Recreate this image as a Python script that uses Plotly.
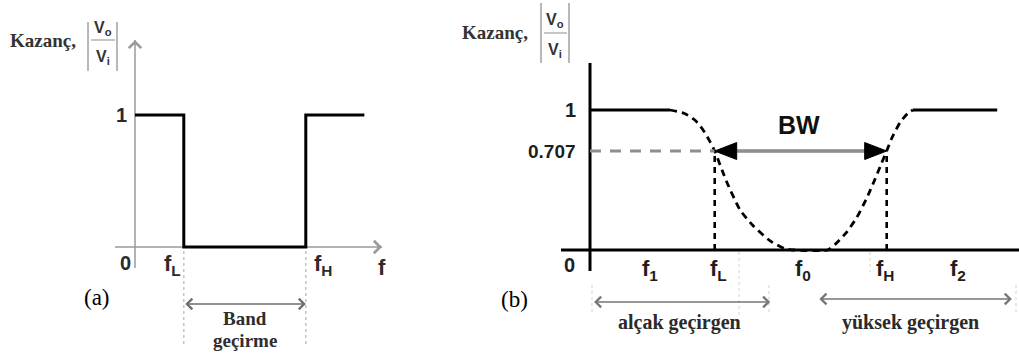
import plotly.graph_objects as go

W, H = 1019, 353

# ---------------- data ----------------
# (a) ideal band-stop response
a_fL, a_fH = 2.0, 7.0
a_f = [0.0, a_fL, a_fL, a_fH, a_fH, 9.4]
a_gain = [1, 1, 0, 0, 1, 1]

# (b) practical band-stop response
b_f1, b_fL, b_f0, b_fH, b_f2 = 1.4, 2.9, 4.95, 6.9, 8.56
b_cut = 0.707
b_pass_left_f = [0.0, 1.86]
b_pass_left_g = [1, 1]
b_pass_right_f = [7.51, 9.47]
b_pass_right_g = [1, 1]
b_curve_f = [1.86, 2.2, 2.45, 2.63, 2.78, 2.9, 3.07, 3.19, 3.49, 3.79, 4.19, 4.53, 4.75,
             5.53, 5.7, 5.95, 6.2, 6.42, 6.62, 6.78, 6.9, 7.02, 7.21, 7.4, 7.51]
b_curve_g = [1.0, 0.975, 0.925, 0.857, 0.78, 0.707, 0.571, 0.479, 0.286, 0.175, 0.065, 0.01, 0.0,
             0.0, 0.04, 0.12, 0.23, 0.36, 0.5, 0.62, 0.707, 0.8, 0.91, 0.98, 1.0]
b_low_band = [0.06, 4.19]
b_high_band = [5.3, 9.81]

# ---------------- panel geometry ----------------
SPLIT = 428
# panel a: origin pixel and pixel scale per unit
A_X0, A_SX, A_Y0, A_SY = 135, 24.4, 247, 132
# panel b
B_X0, B_SX, B_Y0, B_SY = 590, 43.0, 250, 140


def ax_(px):
    return (px - A_X0) / A_SX


def ay_(py):
    return (A_Y0 - py) / A_SY


def bx_(px):
    return (px - B_X0) / B_SX


def by_(py):
    return (B_Y0 - py) / B_SY


SANS = "Liberation Sans"
SERIF = "Liberation Serif"

fig = go.Figure()

# panel (a) step response
fig.add_trace(go.Scatter(x=a_f, y=a_gain, mode="lines", xaxis="x", yaxis="y",
                         line=dict(color="black", width=3), hoverinfo="skip"))

# panel (b) pass-band lines and dashed transition curve
fig.add_trace(go.Scatter(x=b_pass_left_f, y=b_pass_left_g, mode="lines", xaxis="x2", yaxis="y2",
                         line=dict(color="black", width=3), hoverinfo="skip"))
fig.add_trace(go.Scatter(x=b_pass_right_f, y=b_pass_right_g, mode="lines", xaxis="x2", yaxis="y2",
                         line=dict(color="black", width=3), hoverinfo="skip"))
fig.add_trace(go.Scatter(x=b_curve_f, y=b_curve_g, mode="lines", xaxis="x2", yaxis="y2",
                         line=dict(color="black", width=2.8, dash="7px,5px", shape="spline",
                                   smoothing=0.6),
                         hoverinfo="skip"))

shapes = []
ann = []


def axis_arrow(xr, yr, x0, y0, x1, y1, color, width, head_size, head_len_x, head_len_y):
    """Axis shaft drawn below the data, open arrow head on top."""
    shapes.append(dict(type="line", xref=xr, yref=yr, x0=x0, y0=y0, x1=x1, y1=y1, layer="below",
                       line=dict(color=color, width=width)))
    ann.append(dict(xref=xr, yref=yr, axref=xr, ayref=yr, x=x1, y=y1,
                    ax=x1 - head_len_x, ay=y1 - head_len_y, text="", showarrow=True,
                    arrowhead=4, arrowsize=head_size, arrowwidth=width, arrowcolor=color, standoff=0))


# ---- panel (a) axes (gray, open arrow heads)
GA = "#9a9a9a"
axis_arrow("x", "y", 0, ay_(268), 0, ay_(40), GA, 1.5, 1.6, 0, 6 / A_SY)
axis_arrow("x", "y", ax_(115), 0, ax_(382), 0, GA, 1.5, 1.6, 6 / A_SX, 0)
# dotted guides at fL, fH
for f in (a_fL, a_fH):
    shapes.append(dict(type="line", xref="x", yref="y", x0=f, x1=f, y0=ay_(251), y1=ay_(345),
                       line=dict(color="#c4c4c4", width=1.5, dash="dot")))
# band double arrow
ann.append(dict(xref="x", yref="y", axref="x", ayref="y", x=a_fH, y=ay_(304), ax=a_fL, ay=ay_(304),
                text="", showarrow=True, arrowhead=4, arrowside="end+start", arrowsize=1.3,
                arrowwidth=1.6, arrowcolor="#6e6e6e", standoff=0, startstandoff=0))
# fraction bars |Vo/Vi|
for px in (88, 117):
    shapes.append(dict(type="line", xref="x", yref="y", x0=ax_(px), x1=ax_(px), y0=ay_(22), y1=ay_(71),
                       line=dict(color="#a0a0a0", width=1.5)))
shapes.append(dict(type="line", xref="x", yref="y", x0=ax_(91), x1=ax_(115), y0=ay_(40), y1=ay_(40),
                   line=dict(color="#a0a0a0", width=1.2)))

# ---- panel (b) axes (black)
axis_arrow("x2", "y2", 0, by_(271), 0, by_(63), "black", 3, 1.0, 0, 6 / B_SY)
axis_arrow("x2", "y2", bx_(561), 0, bx_(1021), 0, "black", 3, 1.0, 6 / B_SX, 0)
# 0.707 guide line
shapes.append(dict(type="line", xref="x2", yref="y2", x0=0, x1=b_fL, y0=b_cut, y1=b_cut,
                   line=dict(color="#8e8e8e", width=3, dash="11px,9px")))
# vertical dashed lines at fL and fH
for f in (b_fL, b_fH):
    shapes.append(dict(type="line", xref="x2", yref="y2", x0=f, x1=f, y0=0, y1=b_cut,
                       line=dict(color="black", width=2.6, dash="6px,5px")))
# BW double arrow: gray shaft, black solid heads
shapes.append(dict(type="line", xref="x2", yref="y2", x0=b_fL + 20 / B_SX, x1=b_fH - 20 / B_SX,
                   y0=b_cut, y1=b_cut, line=dict(color="#a5a5a5", width=4)))
shapes.append(dict(type="line", xref="x2", yref="y2", x0=b_fL + 20 / B_SX, x1=b_fH - 20 / B_SX,
                   y0=b_cut, y1=b_cut, line=dict(color="#7a7a7a", width=1.2)))
hl, hh = 22 / B_SX, 8.5 / B_SY
for tip, d in ((b_fL, 1), (b_fH, -1)):
    path = (f"M {tip},{b_cut} L {tip + d * hl},{b_cut + hh} "
            f"L {tip + d * hl},{b_cut - hh} Z")
    shapes.append(dict(type="path", xref="x2", yref="y2", path=path,
                       fillcolor="black", line=dict(color="black", width=1)))
# fraction bars
for px in (541, 569):
    shapes.append(dict(type="line", xref="x2", yref="y2", x0=bx_(px), x1=bx_(px), y0=by_(3), y1=by_(63),
                       line=dict(color="#a0a0a0", width=1.5)))
shapes.append(dict(type="line", xref="x2", yref="y2", x0=bx_(544), x1=bx_(567), y0=by_(33), y1=by_(33),
                   line=dict(color="#a0a0a0", width=1.2)))
# faint dotted guides at the ends of the band arrows
for px, y0p, y1p in ((739, 252, 318), (592, 285, 315), (769, 285, 315), (870, 252, 272), (1016, 285, 315)):
    shapes.append(dict(type="line", xref="x2", yref="y2", x0=bx_(px), x1=bx_(px), y0=by_(y0p), y1=by_(y1p),
                       line=dict(color="#dadada", width=1.2, dash="dot")))
# low-pass / high-pass range arrows
for lo, hi, py in ((b_low_band[0], b_low_band[1], 302), (b_high_band[0], b_high_band[1], 299)):
    ann.append(dict(xref="x2", yref="y2", axref="x2", ayref="y2", x=hi, y=by_(py), ax=lo, ay=by_(py),
                    text="", showarrow=True, arrowhead=4, arrowside="end+start", arrowsize=1.3,
                    arrowwidth=1.6, arrowcolor="#767676", standoff=0, startstandoff=0))


def label(xref, yref, x, y, text, size, family=SANS, color="#1e1e1e", xanchor="center"):
    ann.append(dict(xref=xref, yref=yref, x=x, y=y, text=text, showarrow=False,
                    xanchor=xanchor, yanchor="middle",
                    font=dict(family=family, size=size, color=color)))


# ---- panel (a) labels
label("x", "y", ax_(43), ay_(40), "<b>Kazanç,</b>", 19, SERIF, "#333333")
label("x", "y", ax_(103), ay_(28), "<b>V<sub>o</sub></b>", 16, SANS, "#333333")
label("x", "y", ax_(103), ay_(57), "<b>V<sub>i</sub></b>", 16, SANS, "#333333")
label("x", "y", ax_(121), 1, "<b>1</b>", 20, SANS, "#2a2a2a")
label("x", "y", ax_(125), ay_(263), "<b>0</b>", 20, SANS, "#2a2a2a")
label("x", "y", ax_(172), ay_(265), "<b>f<sub>L</sub></b>", 22, SANS, "#2a2a2a")
label("x", "y", ax_(323), ay_(265), "<b>f<sub>H</sub></b>", 22, SANS, "#2a2a2a")
label("x", "y", ax_(382), ay_(267), "<b>f</b>", 22, SANS, "#2a2a2a")
label("x", "y", ax_(97), ay_(297), "(a)", 23, SERIF, "black")
label("x", "y", (a_fL + a_fH) / 2, ay_(318), "<b>Band</b>", 19, SERIF, "#2e2e2e")
label("x", "y", (a_fL + a_fH) / 2, ay_(340), "<b>geçirme</b>", 19, SERIF, "#2e2e2e")

# ---- panel (b) labels
label("x2", "y2", bx_(495), by_(32), "<b>Kazanç,</b>", 19, SERIF, "#333333")
label("x2", "y2", bx_(555), by_(20), "<b>V<sub>o</sub></b>", 16, SANS, "#333333")
label("x2", "y2", bx_(555), by_(50), "<b>V<sub>i</sub></b>", 16, SANS, "#333333")
label("x2", "y2", bx_(578), 1, "<b>1</b>", 20, SANS, "#1e1e1e", "right")
label("x2", "y2", bx_(578), b_cut, "<b>0.707</b>", 19, SANS, "#1e1e1e", "right")
label("x2", "y2", bx_(569), by_(265), "<b>0</b>", 20, SANS, "#1e1e1e")
for f, t, dx in ((b_f1, "f<sub>1</sub>", 0), (b_fL, "f<sub>L</sub>", 4), (b_f0, "f<sub>0</sub>", 0),
                 (b_fH, "f<sub>H</sub>", -2), (b_f2, "f<sub>2</sub>", 0)):
    label("x2", "y2", f + dx / B_SX, by_(270), f"<b>{t}</b>", 22, SANS, "#1e1e1e")
label("x2", "y2", bx_(1021), by_(270), "<b>f</b>", 22, SANS, "#1e1e1e")
label("x2", "y2", (b_fL + b_fH) / 2 - 0.05, by_(125), "<b>BW</b>", 25, SANS, "#111111")
label("x2", "y2", bx_(514), by_(299), "(b)", 23, SERIF, "black")
label("x2", "y2", sum(b_low_band) / 2 - 0.05, by_(322), "<b>alçak geçirgen</b>", 20, SERIF, "#2a2a2a")
label("x2", "y2", sum(b_high_band) / 2 - 0.1, by_(322), "<b>yüksek geçirgen</b>", 20, SERIF, "#2a2a2a")

hidden = dict(visible=False, showgrid=False, zeroline=False, fixedrange=True)
fig.update_layout(
    width=W, height=H, margin=dict(l=0, r=0, t=0, b=0),
    paper_bgcolor="white", plot_bgcolor="white", showlegend=False,
    xaxis=dict(domain=[0, SPLIT / W], range=[ax_(0), ax_(SPLIT)], **hidden),
    yaxis=dict(domain=[0, 1], range=[ay_(H), ay_(0)], anchor="x", **hidden),
    xaxis2=dict(domain=[SPLIT / W, 1], range=[bx_(SPLIT), bx_(W)], anchor="y2", **hidden),
    yaxis2=dict(domain=[0, 1], range=[by_(H), by_(0)], anchor="x2", **hidden),
    shapes=shapes, annotations=ann,
)

fig.write_html("out.html")
